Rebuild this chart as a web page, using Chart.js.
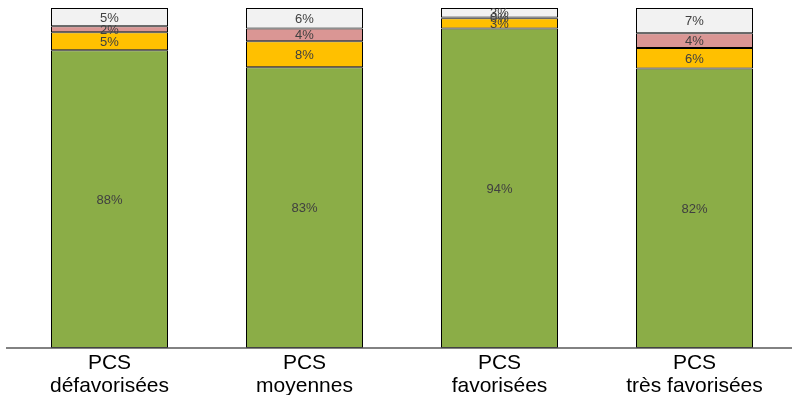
<!DOCTYPE html>
<html>
<head>
<meta charset="utf-8">
<script src="https://cdn.jsdelivr.net/npm/chart.js@4"></script>
<style>
  html, body { margin: 0; padding: 0; background: #fff; }
  #chart { display: block; }
</style>
</head>
<body>
<canvas id="chart" width="792" height="395"></canvas>
<script>
const categories = [["PCS", "défavorisées"], ["PCS", "moyennes"], ["PCS", "favorisées"], ["PCS", "très favorisées"]];
const vert = [87.6, 82.6, 94.0, 82.2];
const jaune = [5.3, 7.6, 3.0, 6.0];
const rose = [1.7, 3.8, 0.2, 4.4];
const gris = [5.4, 6.0, 2.8, 7.4];

// values written in the middle of each segment + the baseline
const segLabels = {
    id: "segLabels",
    afterDatasetsDraw(chart) {
        const ctx = chart.ctx;
        ctx.save();
        ctx.font = "13px 'Liberation Sans', Arial, sans-serif";
        ctx.fillStyle = "#404040";
        ctx.textAlign = "center";
        ctx.textBaseline = "middle";
        chart.data.datasets.forEach((ds, i) => {
            chart.getDatasetMeta(i).data.forEach((bar, j) => {
                const y = (bar.y + bar.base) / 2;
                ctx.fillText(Math.round(ds.data[j]) + "%", bar.x, y + 1);
            });
        });
        const yb = chart.scales.y.getPixelForValue(0);
        ctx.strokeStyle = "#595959";
        ctx.lineWidth = 1.5;
        ctx.beginPath();
        ctx.moveTo(6, yb);
        ctx.lineTo(792, yb);
        ctx.stroke();
        ctx.restore();
    }
};

const ctx = document.getElementById("chart").getContext("2d");
const chart = new Chart(ctx, {
    type: "bar",
    data: {
        labels: categories,
        datasets: [
            { label: "vert", data: vert, backgroundColor: "#8BAD47" },
            { label: "jaune", data: jaune, backgroundColor: "#FFC000" },
            { label: "rose", data: rose, backgroundColor: "#DA9694" },
            { label: "gris", data: gris, backgroundColor: "#F2F2F2" }
        ]
    },
    options: {
        responsive: false,
        animation: false,
        devicePixelRatio: 1,
        layout: { padding: { top: 8, left: 12, right: 0, bottom: 0 } },
        datasets: {
            bar: {
                borderColor: "#000",
                borderWidth: 1,
                borderSkipped: false,
                categoryPercentage: 0.6,
                barPercentage: 1
            }
        },
        plugins: {
            legend: { display: false },
            tooltip: { enabled: false }
        },
        scales: {
            x: {
                stacked: true,
                grid: { display: false },
                border: { display: false },
                afterFit: (scale) => { scale.height = 47; },
                ticks: {
                    color: "#000",
                    padding: -4,
                    maxRotation: 0,
                    font: { family: "'Liberation Sans', Arial, sans-serif", size: 21, lineHeight: 1.1 }
                }
            },
            y: {
                stacked: true,
                display: false,
                min: 0,
                max: 100
            }
        }
    },
    plugins: [segLabels]
});
</script>
</body>
</html>
